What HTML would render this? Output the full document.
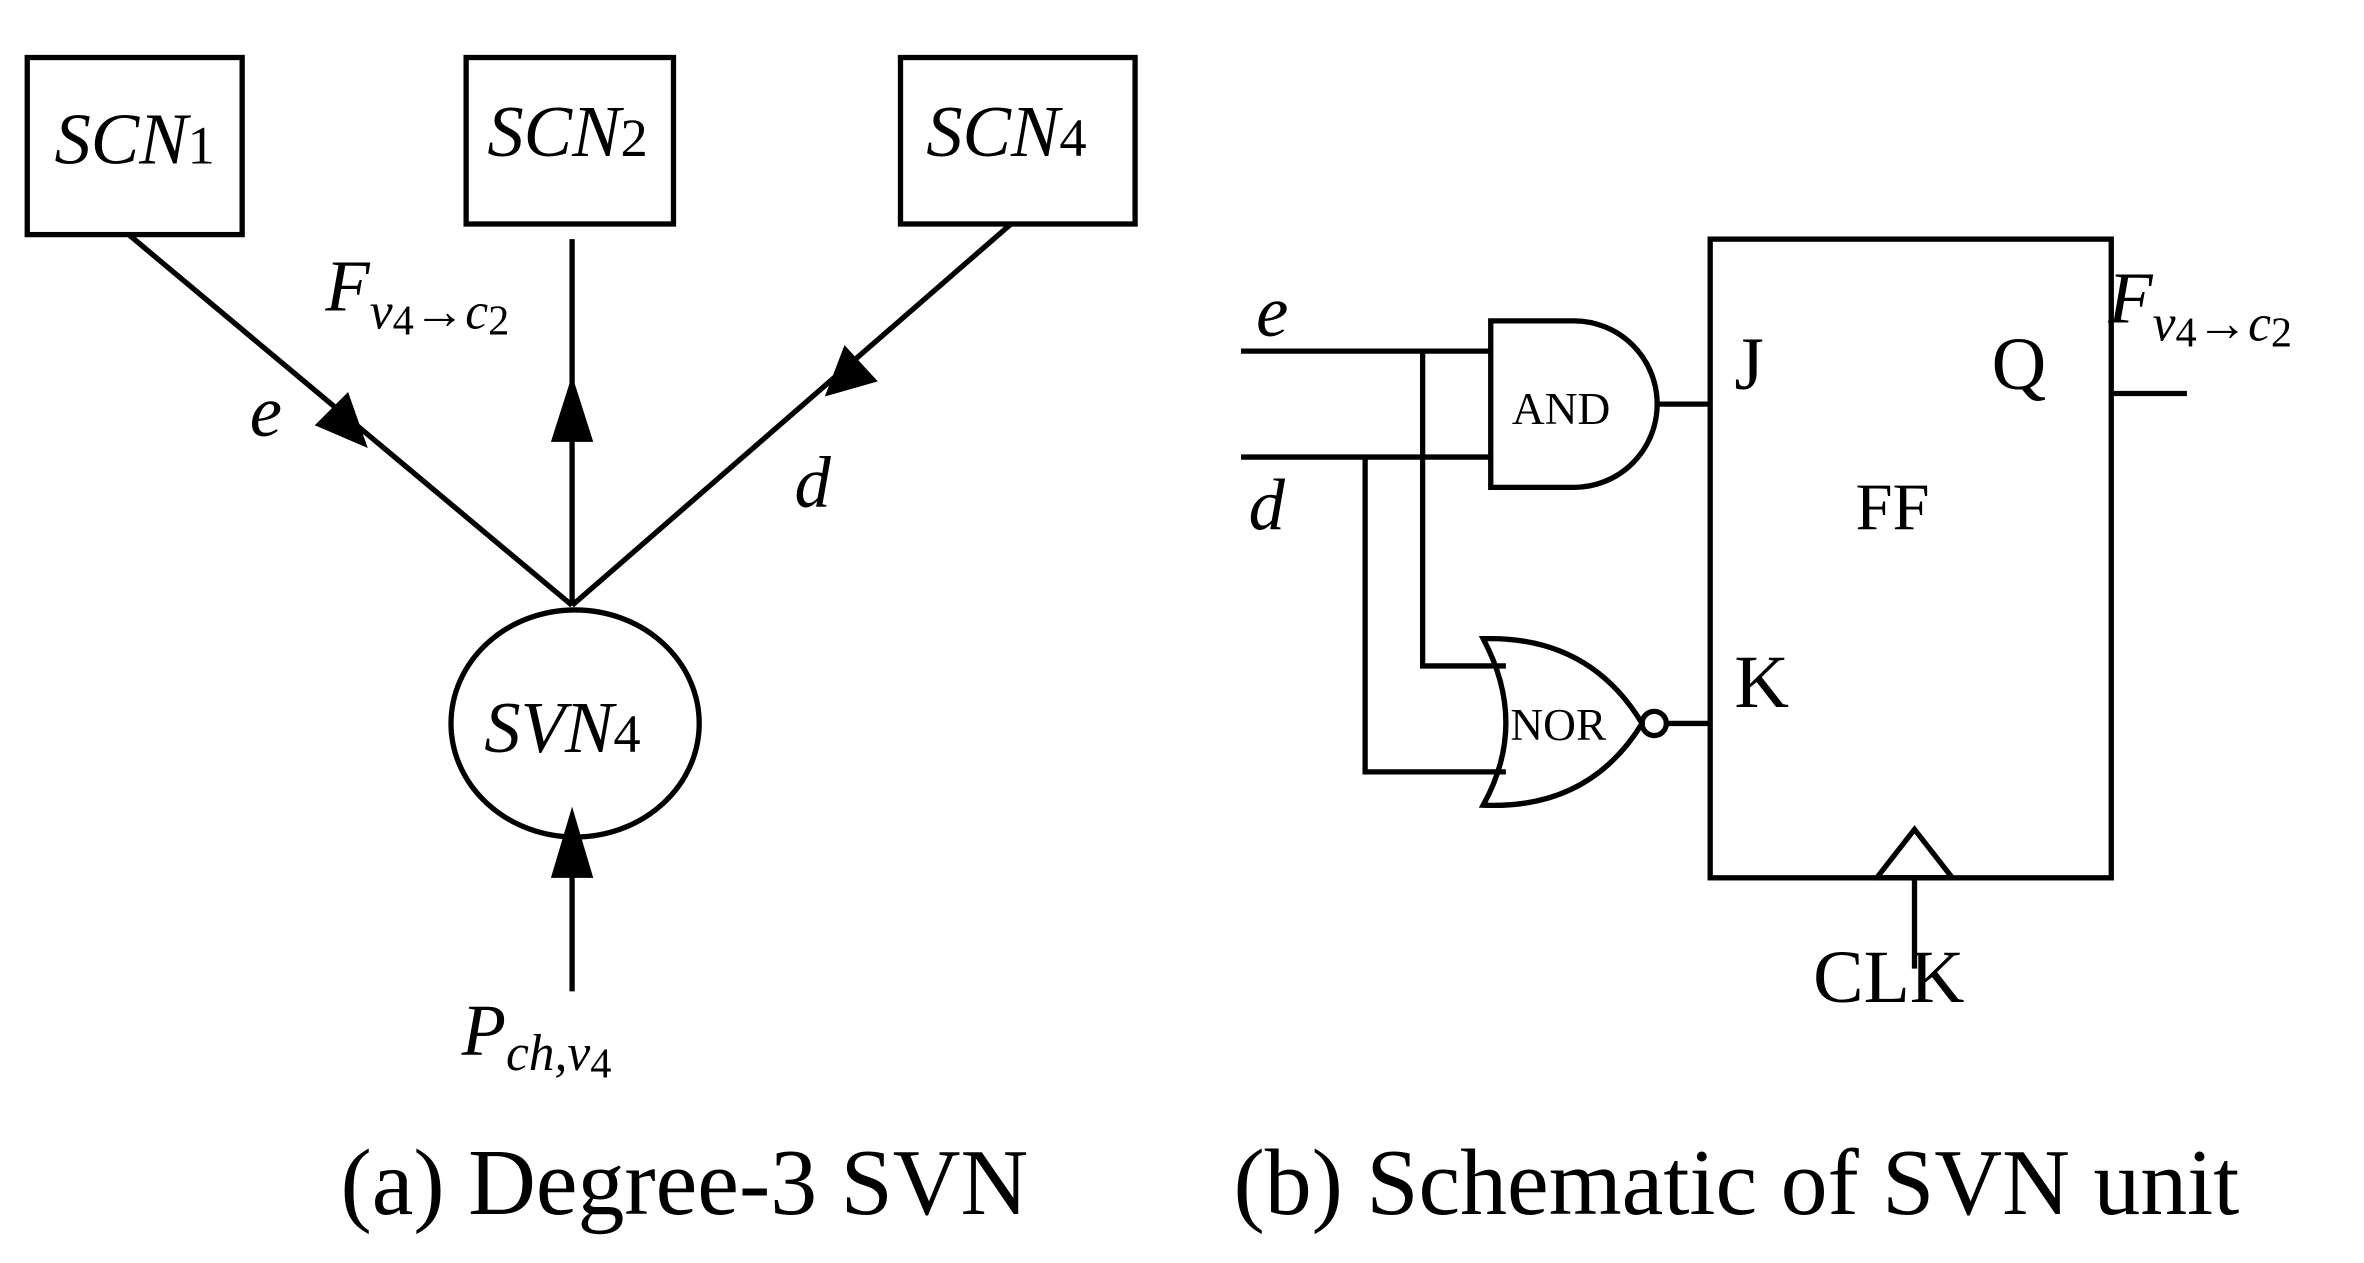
<!DOCTYPE html>
<html><head><meta charset="utf-8"><style>
html,body{margin:0;padding:0;background:#fff;}
svg{display:block}
text{font-family:"Liberation Serif",serif;fill:#000}
</style></head><body>
<svg width="2364" height="1263" viewBox="0 0 1562 834.5" preserveAspectRatio="none" xmlns="http://www.w3.org/2000/svg">
<g stroke="#000" stroke-width="3.5" fill="none">
<rect x="18" y="38" width="142" height="117"/>
<rect x="308" y="38" width="137" height="110"/>
<rect x="595" y="38" width="155" height="110"/>
<line x1="85" y1="155" x2="378" y2="400"/>
<line x1="378" y1="158" x2="378" y2="400"/>
<line x1="668" y1="148" x2="378" y2="400"/>
<ellipse cx="380" cy="478" rx="82" ry="75"/>
<line x1="378" y1="655" x2="378" y2="550"/>
<rect x="1130" y="158" width="265" height="422"/>
<line x1="1395" y1="260" x2="1445" y2="260"/>
<polygon points="1240,580 1265,548 1290,580"/>
<line x1="1265" y1="580" x2="1265" y2="640"/>
<line x1="820" y1="232" x2="985" y2="232"/>
<line x1="820" y1="302" x2="985" y2="302"/>
<path d="M985,212 L1040,212 A55,55 0 0 1 1040,322 L985,322 Z"/>
<line x1="1095" y1="267" x2="1130" y2="267"/>
<path d="M980,422 Q1050,420 1085,478 Q1050,535 980,532 Q1010,478 980,422 Z"/>
<circle cx="1093" cy="478" r="8"/>
<line x1="1101" y1="478" x2="1130" y2="478"/>
<polyline points="940,232 940,440 995,440"/>
<polyline points="902,302 902,510 995,510"/>
</g>
<g fill="#000">
<polygon points="243,296 208,281 230,259"/>
<polygon points="378,248 364,292 392,292"/>
<polygon points="545,262 558,228 580,252"/>
<polygon points="378,533 364,580 392,580"/>
</g>
<g font-style="italic" font-size="48">
<text x="36" y="108">SCN<tspan font-style="normal" font-size="36">1</tspan></text>
<text x="322" y="103">SCN<tspan font-style="normal" font-size="36">2</tspan></text>
<text x="612" y="103">SCN<tspan font-style="normal" font-size="36">4</tspan></text>
<text x="320" y="497">SVN<tspan font-style="normal" font-size="36">4</tspan></text>
<text x="215" y="205">F<tspan font-size="34" dy="12">v</tspan><tspan font-style="normal" font-size="28" dy="4">4</tspan><tspan font-style="normal" font-size="34" dy="-4">→</tspan><tspan font-size="34">c</tspan><tspan font-style="normal" font-size="28" dy="4">2</tspan></text>
<text x="165" y="288">e</text>
<text x="525" y="335">d</text>
<text x="305" y="697">P<tspan font-size="34" dy="10">ch,v</tspan><tspan font-style="normal" font-size="28" dy="5">4</tspan></text>
<text x="1393" y="213">F<tspan font-size="34" dy="12">v</tspan><tspan font-style="normal" font-size="28" dy="4">4</tspan><tspan font-style="normal" font-size="34" dy="-4">→</tspan><tspan font-size="34">c</tspan><tspan font-style="normal" font-size="28" dy="4">2</tspan></text>
<text x="830" y="222">e</text>
<text x="825" y="350">d</text>
</g>
<g font-size="50">
<text x="1146" y="257">J</text>
<text x="1316" y="257">Q</text>
<text x="1226" y="350" font-size="44">FF</text>
<text x="1146" y="467">K</text>
<text x="1198" y="662">CLK</text>
</g>
<text x="999" y="280" font-size="30">AND</text>
<text x="998" y="489" font-size="30">NOR</text>
<text x="225" y="802" font-size="62">(a) Degree-3 SVN</text>
<text x="815" y="802" font-size="62">(b) Schematic of SVN unit</text>
</svg>
</body></html>
